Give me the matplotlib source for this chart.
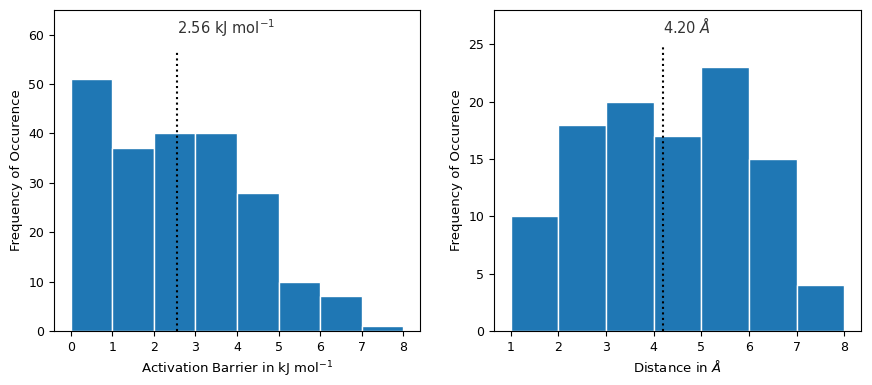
import matplotlib
matplotlib.use("Agg")
import matplotlib.pyplot as plt

# Left histogram: activation barriers
barrier_edges = [0, 1, 2, 3, 4, 5, 6, 7, 8]
barrier_counts = [51, 37, 40, 40, 28, 10, 7, 1]
barrier_mean = 2.56
barrier_label = r"2.56 kJ mol$^{-1}$"

# Right histogram: distances
dist_edges = [1, 2, 3, 4, 5, 6, 7, 8]
dist_counts = [10, 18, 20, 17, 23, 15, 4]
dist_mean = 4.20
dist_label = r"4.20 $\AA$"

fig = plt.figure(figsize=(8.72, 3.85), dpi=100)
ax1 = fig.add_axes([54/872, 1-331/385, 366/872, 321/385])
ax2 = fig.add_axes([494/872, 1-331/385, 367/872, 321/385])

color = "#1f77b4"
text_color = "#333333"

def draw(ax, edges, counts, mean, label, ylim, ytop, ytext, xlabel):
    lefts = edges[:-1]
    widths = [edges[i+1]-edges[i] for i in range(len(counts))]
    ax.bar(lefts, counts, width=widths, align="edge", color=color,
           edgecolor="white", linewidth=1.0)
    ax.set_ylim(*ylim)
    ax.vlines(mean, 0, ytop, colors="black", linestyles=":", linewidth=1.5)
    ax.text(mean, ytext, label, ha="left", va="center", fontsize=10.5, color=text_color)
    ax.set_xlabel(xlabel, fontsize=9.5)
    ax.set_ylabel("Frequency of Occurence", fontsize=9.5)
    ax.set_xticks(edges)
    ax.tick_params(labelsize=9)

draw(ax1, barrier_edges, barrier_counts, barrier_mean, barrier_label,
     (0, 65), 56.5, 61.4, r"Activation Barrier in kJ mol$^{-1}$")
draw(ax2, dist_edges, dist_counts, dist_mean, dist_label,
     (0, 28), 24.8, 26.6, r"Distance in $\AA$")
ax1.set_xlim(-0.4, 8.4)
ax2.set_xlim(0.65, 8.35)

fig.savefig("out.png", dpi=100)
